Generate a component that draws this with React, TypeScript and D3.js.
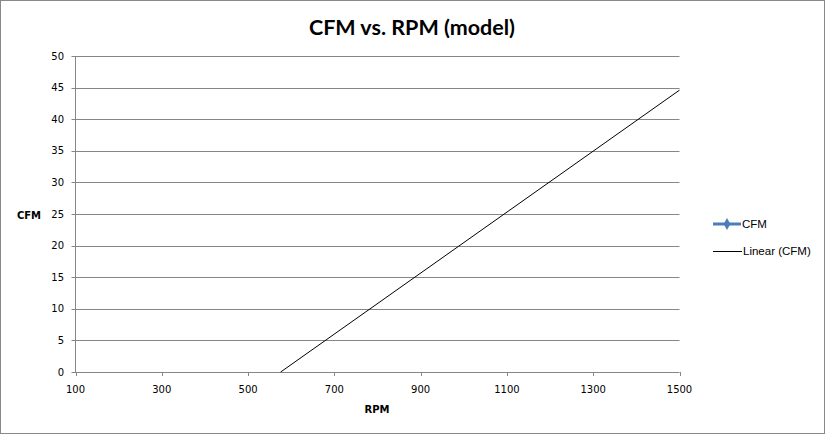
import React from "react";
import * as d3 from "d3";

const xTicks = [100, 300, 500, 700, 900, 1100, 1300, 1500];
const yTicks = [0, 5, 10, 15, 20, 25, 30, 35, 40, 45, 50];
// Linear trendline endpoints (RPM, CFM)
const trendRPM = [575.6, 1500];
const trendCFM = [0, 44.6];
const legendLabels = ["CFM", "Linear (CFM)"];

const W = 825;
const H = 434;

export default function App() {
  const x = d3.scaleLinear().domain([100, 1500]).range([75.5, 679.5]);
  const y = d3.scaleLinear().domain([0, 50]).range([372, 56]);
  const trend = trendRPM.map((r, i) => [r, trendCFM[i]] as [number, number]);
  const line = d3
    .line<[number, number]>()
    .x((d) => x(d[0]))
    .y((d) => y(d[1]));
  const grid = "#868686";
  const tickFont = "DejaVu Sans, Verdana, sans-serif";
  return (
    <svg
      width={W}
      height={H}
      style={{ position: "fixed", left: 0, top: 0, background: "#fff" }}
    >
      <rect x={0.5} y={0.5} width={W - 1} height={H - 1} fill="#fff" stroke="#888" />
      <text
        x={412}
        y={35}
        textAnchor="middle"
        fontFamily="Lato, sans-serif"
        fontWeight="bold"
        fontSize={21.5}
        fill="#000"
      >
        CFM vs. RPM (model)
      </text>
      {yTicks.map((t) => (
        <g key={"y" + t}>
          <line
            x1={71.5}
            x2={x(1500)}
            y1={Math.round(y(t)) + 0.5}
            y2={Math.round(y(t)) + 0.5}
            stroke={grid}
          />
          <text
            x={64}
            y={y(t)}
            dy="0.35em"
            textAnchor="end"
            fontFamily={tickFont}
            fontSize={10}
            fill="#000"
          >
            {t}
          </text>
        </g>
      ))}
      <line x1={75.5} x2={75.5} y1={y(50)} y2={y(0)} stroke={grid} />
      {xTicks.map((t) => (
        <g key={"x" + t}>
          <line
            x1={Math.round(x(t)) + 0.5}
            x2={Math.round(x(t)) + 0.5}
            y1={y(0)}
            y2={y(0) + 4}
            stroke={grid}
          />
          <text
            x={x(t)}
            y={389}
            dy="0.35em"
            textAnchor="middle"
            fontFamily={tickFont}
            fontSize={10}
            fill="#000"
          >
            {t}
          </text>
        </g>
      ))}
      <path d={line(trend) || ""} fill="none" stroke="#000" strokeWidth={1} />
      <text
        x={29}
        y={215}
        dy="0.35em"
        textAnchor="middle"
        fontFamily={tickFont}
        fontWeight="bold"
        fontSize={10}
        fill="#000"
      >
        CFM
      </text>
      <text
        x={377}
        y={409}
        dy="0.35em"
        textAnchor="middle"
        fontFamily={tickFont}
        fontWeight="bold"
        fontSize={10}
        fill="#000"
      >
        RPM
      </text>
      <g>
        <line x1={713} x2={741} y1={224} y2={224} stroke="#4A7EBB" strokeWidth={3} />
        <path
          d={d3.symbol(d3.symbolDiamond, 40)() || ""}
          transform="translate(727,224)"
          fill="#4A7EBB"
        />
        <text
          x={742}
          y={224}
          dy="0.35em"
          fontFamily="Liberation Sans, Arial, sans-serif"
          fontSize={11.5}
          fill="#000"
        >
          {legendLabels[0]}
        </text>
        <line x1={713} x2={742} y1={251.5} y2={251.5} stroke="#000" strokeWidth={1} />
        <text
          x={743}
          y={251}
          dy="0.35em"
          fontFamily="Liberation Sans, Arial, sans-serif"
          fontSize={11.5}
          fill="#000"
        >
          {legendLabels[1]}
        </text>
      </g>
    </svg>
  );
}
